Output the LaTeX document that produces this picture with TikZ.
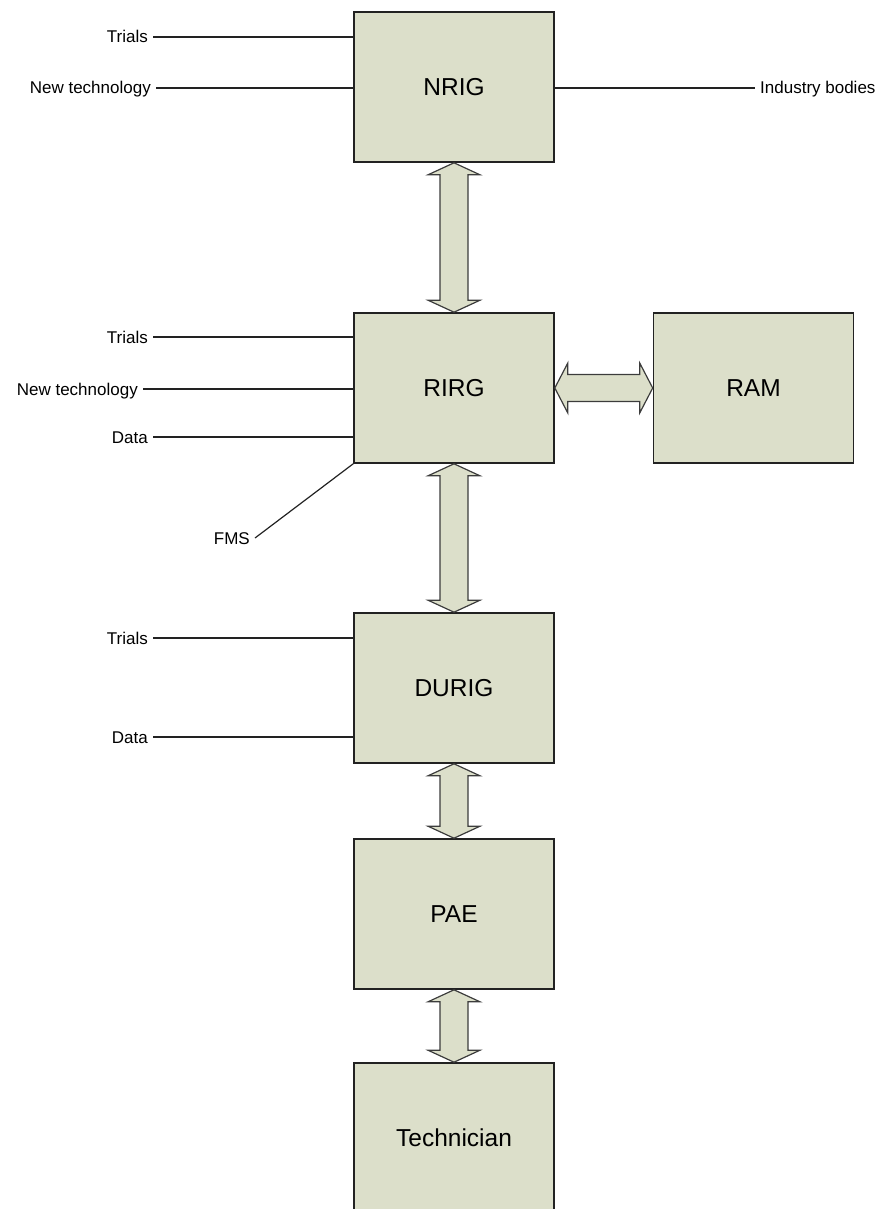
\documentclass[tikz,border=0pt]{standalone}
\usepackage{fontspec}
\setmainfont{Liberation Sans}
\usetikzlibrary{calc}
\definecolor{orgInk}{HTML}{222222}
\definecolor{orgFill}{HTML}{DCDFCA}
\definecolor{orgEdge}{HTML}{3C3C3C}
\tikzset{
  org/box/.style={draw=orgInk, fill=orgFill, line width=1.6pt,
    minimum width=200pt, minimum height=150pt, inner sep=0pt,
    font=\fontsize{24.5}{28}\selectfont},
  org/label/.style={font=\fontsize{17}{20}\selectfont, inner xsep=5pt,
    inner ysep=0pt, text height=12pt, text depth=0pt},
  org/feed/.style={draw=orgInk, line width=1.5pt},
  org/link/.style={draw=orgEdge, fill=orgFill, line width=1.2pt,
    line join=miter},
}
% block double arrows between boxes
\newcommand{\orgvlink}[2]{%
  \path[org/link] let \p1=(#1.south), \p2=(#2.north) in
    (\x1,\y1) -- (\x1+26pt,\y1-12pt) -- (\x1+14pt,\y1-12pt)
    -- (\x1+14pt,\y2+12pt) -- (\x1+26pt,\y2+12pt) -- (\x2,\y2)
    -- (\x1-26pt,\y2+12pt) -- (\x1-14pt,\y2+12pt)
    -- (\x1-14pt,\y1-12pt) -- (\x1-26pt,\y1-12pt) -- cycle;}
\newcommand{\orghlink}[2]{%
  \path[org/link] let \p1=(#1.east), \p2=(#2.west) in
    (\x1,\y1) -- (\x1+13pt,\y1+25pt) -- (\x1+13pt,\y1+13.5pt)
    -- (\x2-13pt,\y1+13.5pt) -- (\x2-13pt,\y1+25pt) -- (\x2,\y2)
    -- (\x2-13pt,\y1-25pt) -- (\x2-13pt,\y1-13.5pt)
    -- (\x1+13pt,\y1-13.5pt) -- (\x1+13pt,\y1-25pt) -- cycle;}

\begin{document}
\begin{tikzpicture}[x=1pt, y=-1pt]
\useasboundingbox (0,0) rectangle (883,1209);

\node[org/box] (nrig) at (454,87) {NRIG};
\node[org/box] (rirg) at (454,388) {RIRG};
\node[org/box] (ram) at (753.5,388) {RAM};
\node[org/box] (durig) at (454,688) {DURIG};
\node[org/box] (pae) at (454,914) {PAE};
\node[org/box] (tech) at (454,1138) {Technician};

\orgvlink{nrig}{rirg}
\orgvlink{rirg}{durig}
\orgvlink{durig}{pae}
\orgvlink{pae}{tech}
\orghlink{rirg}{ram}

% NRIG inputs
\node[org/label, anchor=east] (nTrials) at (153,37) {Trials};
\node[org/label, anchor=east] (nTech) at (156,88) {New technology};
\node[org/label, anchor=west] (nBodies) at (755,88) {Industry bodies};
\draw[org/feed] (nTrials.east) -- (nTrials.east -| nrig.west);
\draw[org/feed] (nTech.east) -- (nTech.east -| nrig.west);
\draw[org/feed] (nrig.east |- nBodies.west) -- (nBodies.west);

% RIRG inputs
\node[org/label, anchor=east] (rTrials) at (153,337) {Trials};
\node[org/label, anchor=east] (rTech) at (143,389) {New technology};
\node[org/label, anchor=east] (rData) at (153,437) {Data};
\node[org/label, anchor=east] (rFms) at (255,538) {FMS};
\draw[org/feed] (rTrials.east) -- (rTrials.east -| rirg.west);
\draw[org/feed] (rTech.east) -- (rTech.east -| rirg.west);
\draw[org/feed] (rData.east) -- (rData.east -| rirg.west);
\draw[org/feed, line width=1.2pt] (rFms.east) -- (rirg.south west);

% DURIG inputs
\node[org/label, anchor=east] (dTrials) at (153,638) {Trials};
\node[org/label, anchor=east] (dData) at (153,737) {Data};
\draw[org/feed] (dTrials.east) -- (dTrials.east -| durig.west);
\draw[org/feed] (dData.east) -- (dData.east -| durig.west);
\end{tikzpicture}
\end{document}
